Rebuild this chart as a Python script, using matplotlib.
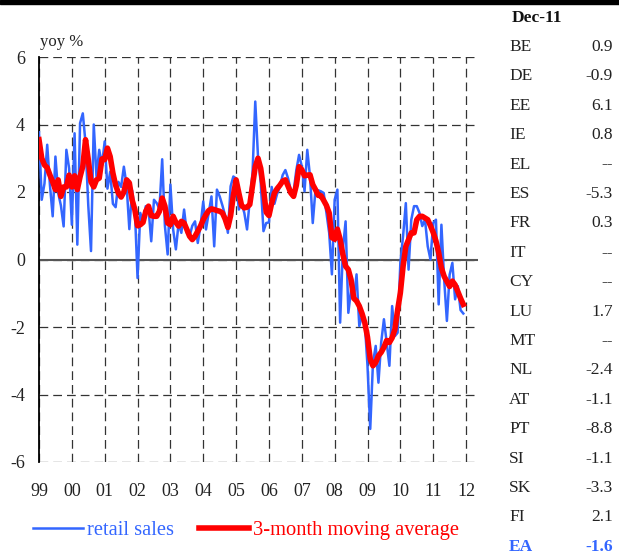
import matplotlib
matplotlib.use('Agg')
import matplotlib.pyplot as plt
import numpy as np

plt.rcParams['font.family'] = ['Liberation Serif', 'DejaVu Serif']
plt.rcParams['axes.unicode_minus'] = False

# euro area retail sales, yoy %, monthly Jan 1999 - Dec 2011
retail_sales = [
    3.77, 1.77, 2.25, 3.4, 2.2, 1.28, 3.05, 1.97, 1.6, 0.98, 3.25, 2.7,       # 1999
    1.03, 3.74, 0.44, 4.04, 4.33, 3.45, 1.6, 0.25, 4.0, 2.46, 3.25, 2.8,      # 2000
    3.5, 2.1, 2.6, 1.65, 1.55, 2.3, 2.15, 2.75, 2.2, 0.9, 2.05, 1.5,          # 2001
    -0.55, 1.38, 1.13, 1.58, 1.5, 0.54, 1.77, 1.67, 1.5, 2.97, 0.99, 0.15,    # 2002
    2.22, 0.89, 0.3, 1.08, 0.79, 1.48, 0.79, 0.69, 1.0, 1.13, 0.49, 1.0,      # 2003
    1.72, 0.89, 1.38, 1.87, 0.39, 2.07, 1.87, 1.6, 1.3, 0.79, 2.17, 2.46,     # 2004
    2.4, 1.48, 1.67, 1.38, 0.89, 1.77, 2.56, 4.68, 3.05, 2.27, 0.84, 1.08,    # 2005
    1.1, 2.15, 1.65, 1.95, 2.15, 2.5, 2.65, 2.4, 2.05, 2.0, 2.65, 3.1,        # 2006
    2.76, 2.02, 3.25, 2.46, 1.08, 2.07, 2.05, 2.02, 1.97, 1.38, 0.79, -0.44,  # 2007
    1.77, 2.07, -1.87, 0.3, 1.13, -1.58, -0.89, -1.18, -0.44, -1.97, -1.67, -1.87,  # 2008
    -3.15, -5.02, -3.05, -2.56, -3.65, -2.46, -1.77, -2.46, -3.15, -1.38, -2.27, -2.17,  # 2009
    -0.1, 0.7, 1.67, -0.3, 1.18, 1.58, 1.58, 1.38, 0.99, 1.18, 0.39, 0.0,    # 2010
    1.08, 1.18, -1.33, 1.03, -0.59, -1.82, -0.45, -0.1, -1.18, -0.79, -1.5, -1.6,  # 2011
]

moving_avg = [
    3.55, 3.0, 2.8, 2.72, 2.5, 2.3, 2.07, 2.36, 1.87, 2.15, 2.15, 2.5,
    2.15, 2.48, 2.07, 2.45, 2.76, 3.55, 2.96, 2.3, 2.15, 2.36, 2.41, 2.98,
    2.96, 3.3, 3.05, 2.56, 2.2, 1.97, 1.85, 2.0, 2.36, 2.27, 1.77, 1.48,
    1.0, 1.03, 1.1, 1.43, 1.58, 1.3, 1.28, 1.28, 1.43, 1.82, 1.58, 1.08,
    1.03, 1.28, 1.1, 0.99, 1.13, 1.08, 0.89, 0.69, 0.59, 0.69, 0.84, 0.99,
    1.18, 1.33, 1.45, 1.5, 1.48, 1.45, 1.43, 1.38, 1.2, 0.95, 1.3, 1.9,
    2.36, 1.97, 1.6, 1.53, 1.55, 1.63, 2.2, 2.75, 3.0, 2.7, 2.1, 1.4,
    1.3, 1.67, 1.97, 2.1, 2.2, 2.32, 2.36, 2.17, 1.97, 1.87, 2.2, 2.75,
    2.66, 2.48, 2.5, 2.51, 2.22, 2.07, 1.9, 1.89, 1.75, 1.6, 1.38, 0.65,
    0.6, 0.9, 0.6, 0.15, -0.2, -0.3, -0.6, -1.15, -1.23, -1.38, -1.6, -1.87,
    -2.3, -2.95, -3.15, -3.05, -2.85, -2.75, -2.6, -2.4, -2.46, -2.32, -2.07, -1.5,
    -0.99, -0.2, 0.39, 0.59, 0.79, 0.79, 1.18, 1.28, 1.28, 1.23, 1.18, 1.0,
    0.8, 0.55, 0.2, -0.25, -0.5, -0.65, -0.8, -0.64, -0.75, -0.95, -1.15, -1.33,
]

years = list(range(1999, 2013))
year_labels = [f'{y % 100:02d}' for y in years]

countries = ['BE', 'DE', 'EE', 'IE', 'EL', 'ES', 'FR', 'IT', 'CY', 'LU',
             'MT', 'NL', 'AT', 'PT', 'SI', 'SK', 'FI', 'EA']
dec11 = ['0.9', '-0.9', '6.1', '0.8', '--', '-5.3', '0.3', '--', '--', '1.7',
         '--', '-2.4', '-1.1', '-8.8', '-1.1', '-3.3', '2.1', '-1.6']

blue = '#3366ff'
red = '#ff0000'

W, H = 619, 556
fig = plt.figure(figsize=(W / 100, H / 100), dpi=100)
ax = fig.add_axes([39 / W, 1 - 462 / H, (478 - 39) / W, (462 - 57) / H])

t = 1999 + np.arange(len(retail_sales)) / 12
ax.plot(t, retail_sales, color=blue, lw=1.8, label='retail sales', zorder=3)
ax.plot(t, moving_avg, color=red, lw=4, label='3-month moving average',
        zorder=4, solid_joinstyle='round')

ax.set_xlim(1999, 1999 + 439 / 32.85)
ax.set_ylim(-6, 6)
ax.set_yticks(range(-6, 7, 2))
ax.set_xticks(years)
ax.set_xticklabels(year_labels)
ax.grid(True, ls=(0, (7, 4)), color='#333333', lw=0.9)
ax.axhline(0, color='#555555', lw=1.5, zorder=2)

for s in ['top', 'right', 'bottom']:
    ax.spines[s].set_visible(False)
ax.spines['left'].set_linewidth(1.3)
ax.tick_params(axis='x', length=0, pad=15, labelsize=13, colors='#222222')
ax.tick_params(axis='y', length=0, pad=10, labelsize=13, colors='#222222')

fig.text(40 / W, 1 - 42 / H, 'yoy %', fontsize=12, va='center', color='#222222')

# black rule across the top
fig.add_artist(plt.Rectangle((0, 1 - 4 / H), 1, 4 / H, transform=fig.transFigure,
                             color='black', zorder=10))

# country table
fig.text(537 / W, 1 - 18 / H, 'Dec-11', fontsize=12.5, fontweight='bold',
         ha='center', va='center', color='#111111')
for i, (c, v) in enumerate(zip(countries, dec11)):
    y = 1 - (47 + i * 29.4) / H
    col = blue if c == 'EA' else '#222222'
    fw = 'bold' if c == 'EA' else 'normal'
    fig.text(509 / W, y, c, fontsize=12.5, va='center', color=col, fontweight=fw)
    fig.text(613 / W, y, v, fontsize=12.5, va='center', ha='right', color=col,
             fontweight=fw)

leg = fig.legend(loc='center', bbox_to_anchor=(246 / W, 1 - 530 / H), ncol=2,
                 frameon=False, prop={'family': 'Liberation Serif', 'size': 14.8},
                 handlelength=2.45, handletextpad=0.2, columnspacing=1.2)
for txt, c in zip(leg.get_texts(), [blue, red]):
    txt.set_color(c)

fig.savefig('out.png', dpi=100)
